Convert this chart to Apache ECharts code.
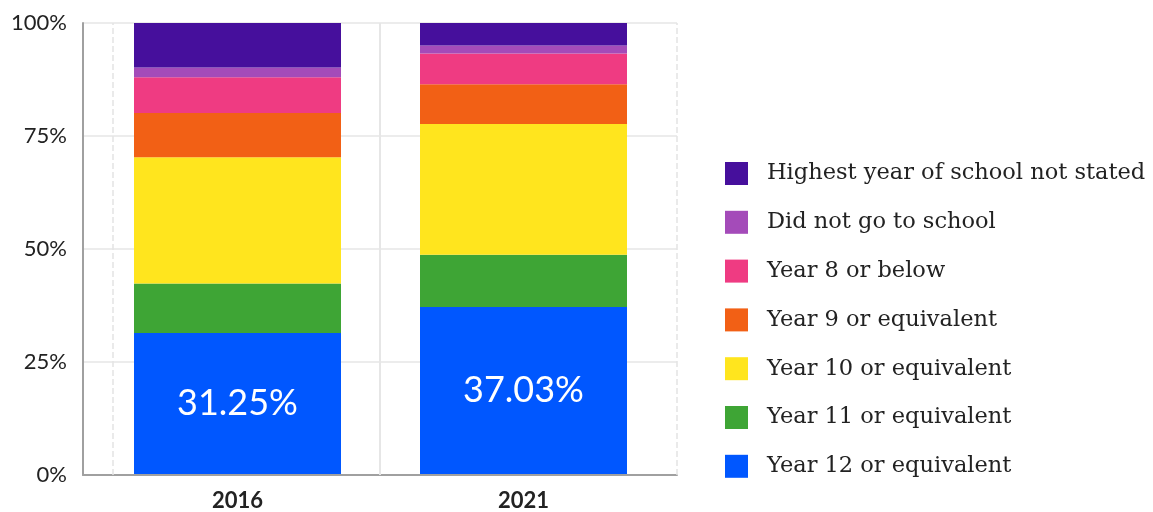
<!DOCTYPE html>
<html>
<head>
<meta charset="utf-8">
<script src="https://cdn.jsdelivr.net/npm/echarts@6/dist/echarts.min.js"></script>
<style>
html,body{margin:0;padding:0;background:#fff;}
#chart{width:1153px;height:512px;}
</style>
</head>
<body>
<div id="chart"></div>
<script>
const categories = ['2016', '2021'];
const seriesNames = [
  'Year 12 or equivalent',
  'Year 11 or equivalent',
  'Year 10 or equivalent',
  'Year 9 or equivalent',
  'Year 8 or below',
  'Did not go to school',
  'Highest year of school not stated'
];
const year12 = [31.25, 37.03];
const year11 = [11.0, 11.6];
const year10 = [28.0, 29.0];
const year9 = [9.8, 8.8];
const year8 = [7.9, 6.8];
const didNotGo = [2.2, 1.8];
const notStated = [9.85, 4.97];
const yTicks = [0, 25, 50, 75, 100];
const colors = ['#0057ff', '#3ea535', '#ffe51e', '#f26015', '#ef3b82', '#a44bb9', '#460f9c'];

const values = [year12, year11, year10, year9, year8, didNotGo, notStated];

const barSeries = seriesNames.map((name, i) => ({
  name: name,
  type: 'bar',
  stack: 'total',
  xAxisIndex: 1,
  yAxisIndex: 1,
  barWidth: 207,
  itemStyle: { color: colors[i] },
  data: values[i],
  label: i === 0 ? {
    show: true,
    position: 'inside',
    color: '#ffffff',
    fontFamily: 'Lato',
    fontSize: 36,
    formatter: p => p.value + '%'
  } : { show: false }
}));

const chart = echarts.init(document.getElementById('chart'), null, { renderer: 'canvas' });
chart.setOption({
  animation: false,
  backgroundColor: '#ffffff',
  grid: [
    { left: 83, right: 476, top: 23, bottom: 37 },
    { left: 94.5, right: 486.5, top: 23, bottom: 37 }
  ],
  xAxis: [
    {
      type: 'value', gridIndex: 0, min: 0, max: 1,
      axisLine: { show: true, onZero: false, lineStyle: { color: '#a0a0a0', width: 2 } },
      axisTick: { show: false }, axisLabel: { show: false }, splitLine: { show: false }
    },
    {
      type: 'category', gridIndex: 1, data: categories,
      axisLine: { show: false }, axisTick: { show: false },
      axisLabel: { color: '#222', fontFamily: 'Lato', fontWeight: 'bold', fontSize: 22, margin: 16 }
    }
  ],
  yAxis: [
    {
      type: 'value', gridIndex: 0, min: yTicks[0], max: yTicks[yTicks.length - 1], interval: 25,
      axisLine: { show: true, lineStyle: { color: '#a0a0a0', width: 2 } },
      axisTick: { show: false },
      axisLabel: { color: '#222', fontFamily: 'Lato', fontSize: 22, margin: 16, formatter: '{value}%' },
      splitLine: { show: true, lineStyle: { color: '#e6e6e6', width: 1.5 } }
    },
    {
      type: 'value', gridIndex: 1, min: 0, max: 100, show: false
    }
  ],
  legend: {
    orient: 'vertical',
    left: 720,
    top: 157,
    icon: 'rect',
    itemWidth: 23,
    itemHeight: 23,
    itemGap: 25.8,
    data: seriesNames.slice().reverse(),
    textStyle: { color: '#222', fontFamily: 'DejaVu Serif', fontSize: 22.5, padding: [0, 0, 0, 14] }
  },
  series: [
    {
      name: 'gridlines',
      type: 'line',
      xAxisIndex: 0,
      yAxisIndex: 0,
      data: [],
      silent: true,
      markLine: {
        silent: true,
        symbol: 'none',
        label: { show: false },
        data: [
          { xAxis: 0.048, lineStyle: { type: 'dashed', color: '#e3e3e3', width: 1.5 } },
          { xAxis: 0.499, lineStyle: { type: 'solid', color: '#e6e6e6', width: 2 } },
          { xAxis: 1, lineStyle: { type: 'dashed', color: '#e3e3e3', width: 1.5 } }
        ]
      }
    }
  ].concat(barSeries)
});
</script>
</body>
</html>
